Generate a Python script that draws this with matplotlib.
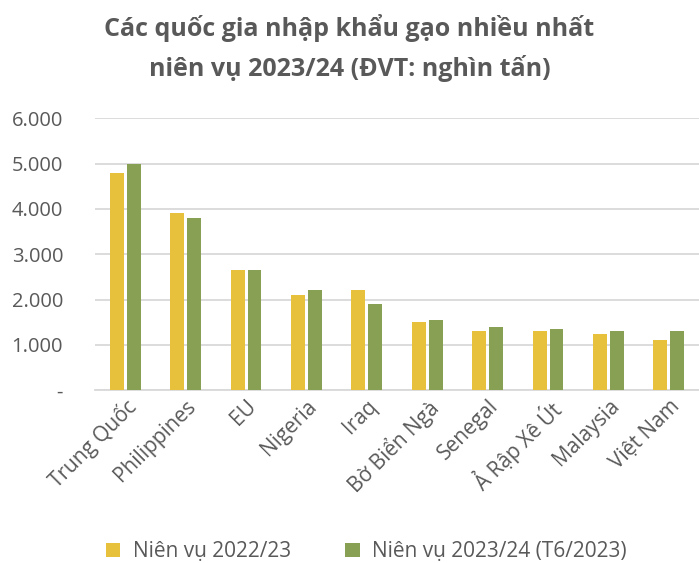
import numpy as np
import matplotlib.pyplot as plt

plt.rcParams['font.family'] = ['Open Sans', 'Noto Sans', 'DejaVu Sans']

countries = ['Trung Quốc', 'Philippines', 'EU', 'Nigeria', 'Iraq',
             'Bờ Biển Ngà', 'Senegal', 'Ả Rập Xê Út', 'Malaysia', 'Việt Nam']
vals_2223 = [4800, 3900, 2650, 2100, 2200, 1500, 1300, 1300, 1250, 1100]
vals_2324 = [5000, 3800, 2650, 2200, 1900, 1550, 1400, 1350, 1300, 1300]
yticks = [0, 1000, 2000, 3000, 4000, 5000, 6000]
ytick_labels = ['-', '1.000', '2.000', '3.000', '4.000', '5.000', '6.000']

YELLOW = '#E8C13C'
GREEN = '#88A054'
TEXT = '#595959'

fig = plt.figure(figsize=(6.99, 5.63), dpi=100)
ax = fig.add_axes([0.136, 0.307, 0.864, 0.483])

x = np.arange(len(countries))
w = 0.23
ax.bar(x - 0.14, vals_2223, w, color=YELLOW, label='Niên vụ 2022/23', zorder=3)
ax.bar(x + 0.14, vals_2324, w, color=GREEN, label='Niên vụ 2023/24 (T6/2023)', zorder=3)

ax.set_xlim(-0.5, len(countries) - 0.5)
ax.set_ylim(0, 6000)
ax.set_yticks(yticks)
ax.set_yticklabels(ytick_labels, fontsize=14.5, color=TEXT)
ax.yaxis.grid(True, color='#D9D9D9', linewidth=1.3, zorder=0)
ax.tick_params(axis='y', length=0, pad=23)
ax.tick_params(axis='x', length=0, pad=4)
ax.set_xticks(x)
ax.set_xticklabels(countries, fontsize=15, color=TEXT, rotation=45,
                   ha='right', rotation_mode='anchor')
for s in ['top', 'right', 'left']:
    ax.spines[s].set_visible(False)
ax.spines['bottom'].set_color('#D9D9D9')
ax.spines['bottom'].set_linewidth(1.3)

fig.suptitle('Các quốc gia nhập khẩu gạo nhiều nhất\nniên vụ 2023/24 (ĐVT: nghìn tấn)',
             fontsize=18, fontweight='bold', color=TEXT, y=0.975, linespacing=1.6)

fig.legend(loc='lower center', bbox_to_anchor=(0.524, -0.032), ncol=2, frameon=False,
           fontsize=15, labelcolor=TEXT, handlelength=0.7, handleheight=0.7,
           columnspacing=2.6, handletextpad=0.6)

fig.savefig('out.png', dpi=100)
